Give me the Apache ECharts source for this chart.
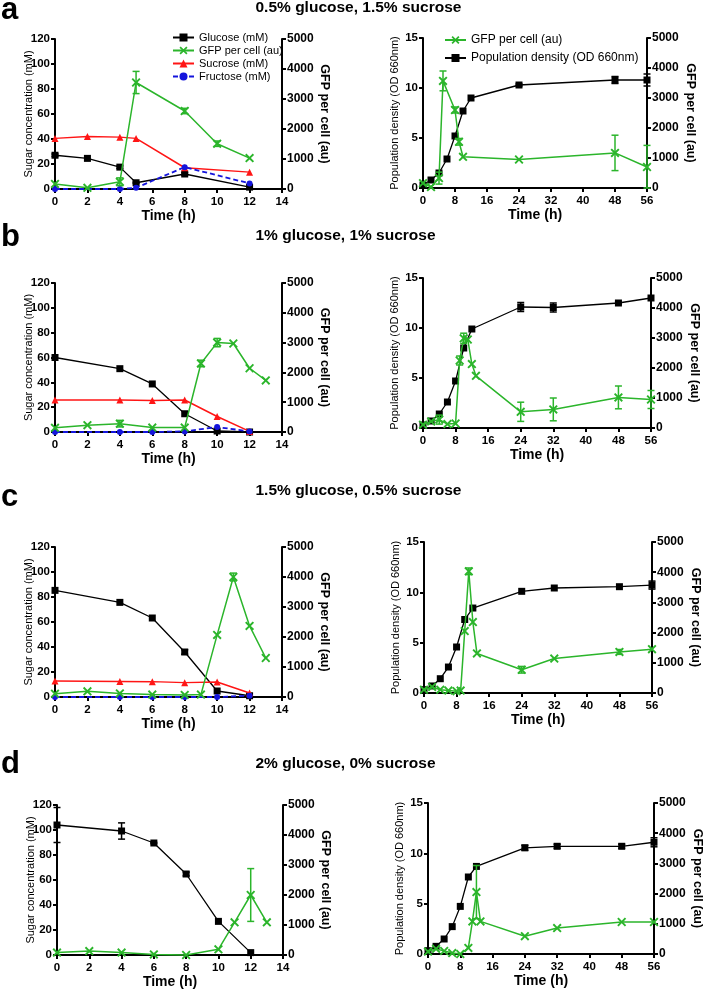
<!DOCTYPE html>
<html><head><meta charset="utf-8">
<script src="https://cdn.jsdelivr.net/npm/echarts/dist/echarts.min.js"></script>
<style>html,body{margin:0;padding:0;background:#fff}#c{width:705px;height:992px}</style>
</head><body><div id="c"></div>
<script>
// ---------------- DATA ----------------
const panelLetters = ['a', 'b', 'c', 'd'];
const panelTitles = ['0.5% glucose, 1.5% sucrose', '1% glucose, 1% sucrose', '1.5% glucose, 0.5% sucrose', '2% glucose, 0% sucrose'];

// panel a – sugars (left) and growth (right)
const aSugarT = [0, 2, 4, 5, 8, 12];
const aGlucose = [27, 24.5, 17.5, 5, 12, 1.5];
const aGlucoseErr = [1, 0, 1, 0.5, 1, 0];
const aSucrose = [40.5, 42, 41.5, 40.5, 17, 13.5];
const aFructoseT = [0, 4, 5, 8, 12];
const aFructose = [0, 0, 1, 17.5, 4.5];
const aGfpT = [0, 2, 4, 5, 8, 10, 12];
const aGfp = [170, 40, 240, 3550, 2600, 1510, 1030];
const aGfpErr = [0, 0, 130, 370, 90, 90, 0];
const aOdT = [0, 2, 4, 6, 8, 10, 12, 24, 48, 56];
const aOd = [0.3, 0.8, 1.5, 2.9, 5.2, 7.7, 9.0, 10.3, 10.8, 10.8];
const aOdErr = [0, 0, 0, 0, 0, 0, 0, 0.1, 0.35, 0.6];
const aGfp2T = [0, 2, 4, 5, 8, 9, 10, 24, 48, 56];
const aGfp2 = [160, 30, 330, 3570, 2600, 1540, 1040, 950, 1170, 700];
const aGfp2Err = [0, 0, 200, 330, 100, 110, 0, 0, 590, 720];

// panel b
const bSugarT = [0, 4, 6, 8, 10, 12];
const bGlucose = [60, 51, 38.7, 14.7, 0.8, 0];
const bSucrose = [25.8, 25.8, 25.3, 25.8, 12.5, 0.5];
const bFructose = [0, 0, 0, 0.5, 4, 0.5];
const bGfpT = [0, 2, 4, 6, 8, 9, 10, 11, 12, 13];
const bGfp = [140, 230, 280, 150, 150, 2300, 3000, 2970, 2140, 1730];
const bGfpErr = [0, 0, 110, 0, 0, 110, 140, 0, 0, 0];
const bOdT = [0, 2, 4, 6, 8, 10, 12, 24, 32, 48, 56];
const bOd = [0.3, 0.7, 1.4, 2.6, 4.7, 8.0, 9.9, 12.1, 12.05, 12.5, 13.0];
const bOdErr = [0, 0, 0, 0, 0, 0, 0, 0.45, 0.45, 0.1, 0];
const bGfp2T = [0, 2, 4, 6, 8, 9, 10, 11, 12, 13, 24, 32, 48, 56];
const bGfp2 = [110, 220, 280, 130, 150, 2250, 2990, 2950, 2130, 1740, 540, 620, 1020, 950];
const bGfp2Err = [0, 0, 150, 0, 0, 150, 170, 0, 0, 0, 320, 380, 380, 300];

// panel c
const cSugarT = [0, 4, 6, 8, 10, 12];
const cGlucose = [85.3, 75.7, 63.2, 36, 4.8, 1];
const cGlucoseErr = [0, 0, 0, 1.8, 0, 0];
const cSucrose = [12.8, 12.5, 12.3, 11.5, 12, 3.2];
const cFructose = [0, 0, 0, 0, 0, 1];
const cGfpT = [0, 2, 4, 6, 8, 9, 10, 11, 12, 13];
const cGfp = [110, 190, 120, 80, 70, 80, 2070, 4000, 2370, 1300];
const cGfpErr = [0, 0, 0, 0, 0, 0, 0, 130, 0, 0];
const cOdT = [0, 2, 4, 6, 8, 10, 12, 24, 32, 48, 56];
const cOd = [0.33, 0.7, 1.42, 2.58, 4.57, 7.3, 8.44, 10.1, 10.43, 10.56, 10.72];
const cOdErr = [0, 0, 0, 0, 0, 0, 0, 0, 0, 0, 0.4];
const cGfp2T = [0, 2, 4, 6, 8, 9, 10, 11, 12, 13, 24, 32, 48, 56];
const cGfp2 = [110, 200, 110, 80, 60, 80, 2050, 4030, 2350, 1310, 770, 1140, 1360, 1450];
const cGfp2Err = [0, 0, 0, 0, 0, 0, 0, 110, 0, 0, 110, 0, 80, 0];

// panel d
const dSugarT = [0, 4, 6, 8, 10, 12];
const dGlucose = [104, 99.2, 89.6, 64.8, 26.9, 1.9];
const dGlucoseErr = [14, 6.5, 0.5, 1.5, 0, 0];
const dGfpT = [0, 2, 4, 6, 8, 10, 11, 12, 13];
const dGfp = [80, 130, 80, 20, 0, 190, 1090, 2000, 1090];
const dGfpErr = [0, 0, 0, 0, 0, 0, 0, 880, 0];
const dOdT = [0, 2, 4, 6, 8, 10, 12, 24, 32, 48, 56];
const dOd = [0.33, 0.76, 1.49, 2.72, 4.73, 7.65, 8.7, 10.55, 10.7, 10.7, 11.1];
const dOdErr = [0, 0, 0, 0, 0, 0, 0, 0.25, 0.2, 0.2, 0.45];
const dGfp2T = [0, 2, 4, 6, 8, 10, 11, 12, 13, 24, 32, 48, 56];
const dGfp2 = [80, 170, 100, 30, 0, 200, 1080, 2050, 1080, 590, 860, 1060, 1060];
const dGfp2Err = [0, 0, 0, 0, 0, 0, 0, 880, 0, 0, 0, 0, 0];

// ---------------- STYLE ----------------
const FONT = '"Liberation Sans", Arial, sans-serif';
const XPATH = 'path://M1.5,0 L5,3.5 L8.5,0 L10,1.5 L6.5,5 L10,8.5 L8.5,10 L5,6.5 L1.5,10 L0,8.5 L3.5,5 L0,1.5 Z';
const ST = {
  glucose: { symbol: 'rect', size: 7, color: '#000000', width: 1.3, z: 2 },
  od: { symbol: 'rect', size: 7, color: '#000000', width: 1.3, z: 2 },
  sucrose: { symbol: 'triangle', size: 7, color: '#ff1515', width: 1.5, z: 3 },
  fructose: { symbol: 'circle', size: 6, color: '#1414dc', width: 1.8, dash: [5, 3], z: 4 },
  gfp: { symbol: XPATH, size: 9, color: '#2bb52b', width: 1.5, z: 5 }
};
const N = {
  glucose: 'Glucose (mM)', gfp: 'GFP per cell (au)', sucrose: 'Sucrose (mM)',
  fructose: 'Fructose (mM)', od: 'Population density (OD 660nm)'
};

const grids = [
  { left: 55, top: 39, width: 227, height: 150 },
  { left: 423, top: 38, width: 224, height: 150 },
  { left: 55, top: 283, width: 227, height: 149 },
  { left: 423, top: 278, width: 228, height: 150 },
  { left: 55, top: 547, width: 227, height: 150 },
  { left: 424, top: 542, width: 228, height: 151 },
  { left: 57, top: 805, width: 226, height: 150 },
  { left: 428, top: 803, width: 228, height: 151 }
];

const axisLineS = { onZero: false, lineStyle: { color: '#000', width: 2 } };
const tickS = { length: 4, lineStyle: { color: '#000', width: 2 } };
function lab(size, margin) {
  return { margin, fontFamily: FONT, fontWeight: 'bold', fontSize: size, color: '#000',
    formatter: v => String(v) };
}
function xAx(g, max, interval) {
  return { type: 'value', gridIndex: g, min: 0, max, interval,
    name: 'Time (h)', nameLocation: 'middle', nameGap: 20, nameMoveOverlap: false,
    nameTextStyle: { fontFamily: FONT, fontWeight: 'bold', fontSize: 14, color: '#000' },
    axisLine: axisLineS, axisTick: tickS, axisLabel: lab(11.5, 7), splitLine: { show: false } };
}
function yL(g, max, interval, name, gap) {
  return { type: 'value', gridIndex: g, position: 'left', min: 0, max, interval,
    name, nameLocation: 'middle', nameRotate: 90, nameGap: gap, nameMoveOverlap: false,
    nameTextStyle: { fontFamily: FONT, fontSize: 11, color: '#000' },
    axisLine: axisLineS, axisTick: tickS, axisLabel: lab(11.5, 5), splitLine: { show: false } };
}
function yR(g, gap) {
  return { type: 'value', gridIndex: g, position: 'right', min: 0, max: 5000, interval: 1000,
    name: 'GFP per cell (au)', nameLocation: 'middle', nameRotate: -90, nameGap: gap, nameMoveOverlap: false,
    nameTextStyle: { fontFamily: FONT, fontWeight: 'bold', fontSize: 12.5, color: '#000' },
    axisLine: axisLineS, axisTick: tickS, axisLabel: lab(12, 5), splitLine: { show: false } };
}

const xAxes = [], yAxes = [];
for (let p = 0; p < 4; p++) {
  const gl = 2 * p, gr = 2 * p + 1;
  xAxes.push(xAx(gl, 14, 2));
  xAxes.push(xAx(gr, 56, 8));
  yAxes.push(yL(gl, 120, 20, 'Sugar concentration (mM)', 21));
  yAxes.push(yR(gl, 36));
  yAxes.push(yL(gr, 15, 5, 'Population density (OD 660nm)', 23));
  yAxes.push(yR(gr, 37));
}

const series = [];
function line(key, g, yi, t, v) {
  const s = ST[key];
  series.push({
    name: N[key], type: 'line', xAxisIndex: g, yAxisIndex: yi,
    data: t.map((x, i) => [x, v[i]]),
    symbol: s.symbol, symbolSize: s.size, showSymbol: true,
    itemStyle: { color: s.color },
    lineStyle: { color: s.color, width: s.width, type: s.dash || 'solid' },
    z: s.z, clip: false
  });
}
function err(key, g, yi, t, v, e) {
  const s = ST[key];
  const data = [];
  t.forEach((x, i) => { if (e[i] > 0) data.push([x, Math.max(0, v[i] - e[i]), v[i] + e[i]]); });
  series.push({
    type: 'custom', xAxisIndex: g, yAxisIndex: yi, data, z: s.z, silent: true,
    encode: { x: 0, y: [1, 2] },
    renderItem(params, api) {
      const x = api.value(0);
      const a = api.coord([x, api.value(2)]);
      const b = api.coord([x, api.value(1)]);
      const w = 3.5;
      const st = { stroke: s.color, lineWidth: 1.5 };
      return { type: 'group', children: [
        { type: 'line', shape: { x1: a[0], y1: a[1], x2: b[0], y2: b[1] }, style: st },
        { type: 'line', shape: { x1: a[0] - w, y1: a[1], x2: a[0] + w, y2: a[1] }, style: st },
        { type: 'line', shape: { x1: b[0] - w, y1: b[1], x2: b[0] + w, y2: b[1] }, style: st }
      ] };
    }
  });
}
// panel a
line('glucose', 0, 0, aSugarT, aGlucose); err('glucose', 0, 0, aSugarT, aGlucose, aGlucoseErr);
line('gfp', 0, 1, aGfpT, aGfp); err('gfp', 0, 1, aGfpT, aGfp, aGfpErr);
line('sucrose', 0, 0, aSugarT, aSucrose);
line('fructose', 0, 0, aFructoseT, aFructose);
line('gfp', 1, 3, aGfp2T, aGfp2); err('gfp', 1, 3, aGfp2T, aGfp2, aGfp2Err);
line('od', 1, 2, aOdT, aOd); err('od', 1, 2, aOdT, aOd, aOdErr);
// panel b
line('glucose', 2, 4, bSugarT, bGlucose);
line('gfp', 2, 5, bGfpT, bGfp); err('gfp', 2, 5, bGfpT, bGfp, bGfpErr);
line('sucrose', 2, 4, bSugarT, bSucrose);
line('fructose', 2, 4, bSugarT, bFructose);
line('gfp', 3, 7, bGfp2T, bGfp2); err('gfp', 3, 7, bGfp2T, bGfp2, bGfp2Err);
line('od', 3, 6, bOdT, bOd); err('od', 3, 6, bOdT, bOd, bOdErr);
// panel c
line('glucose', 4, 8, cSugarT, cGlucose); err('glucose', 4, 8, cSugarT, cGlucose, cGlucoseErr);
line('gfp', 4, 9, cGfpT, cGfp); err('gfp', 4, 9, cGfpT, cGfp, cGfpErr);
line('sucrose', 4, 8, cSugarT, cSucrose);
line('fructose', 4, 8, cSugarT, cFructose);
line('gfp', 5, 11, cGfp2T, cGfp2); err('gfp', 5, 11, cGfp2T, cGfp2, cGfp2Err);
line('od', 5, 10, cOdT, cOd); err('od', 5, 10, cOdT, cOd, cOdErr);
// panel d
line('glucose', 6, 12, dSugarT, dGlucose); err('glucose', 6, 12, dSugarT, dGlucose, dGlucoseErr);
line('gfp', 6, 13, dGfpT, dGfp); err('gfp', 6, 13, dGfpT, dGfp, dGfpErr);
line('gfp', 7, 15, dGfp2T, dGfp2); err('gfp', 7, 15, dGfp2T, dGfp2, dGfp2Err);
line('od', 7, 14, dOdT, dOd); err('od', 7, 14, dOdT, dOd, dOdErr);

// titles and panel letters
const letterY = [10.5, 237.5, 497.5, 764.5];
const titleY = [7.5, 235.5, 490.5, 763.5];
const graphics = [];
for (let p = 0; p < 4; p++) {
  graphics.push({ type: 'text', style: { x: 1, y: letterY[p], text: panelLetters[p], fill: '#000',
    font: 'bold 31px ' + FONT, align: 'left', verticalAlign: 'middle' } });
  graphics.push({ type: 'text', style: { x: 255.5, y: titleY[p], text: panelTitles[p], fill: '#000',
    font: 'bold 15.5px ' + FONT, align: 'left', verticalAlign: 'middle' } });
}

const chart = echarts.init(document.getElementById('c'), null, { renderer: 'canvas' });
chart.setOption({
  animation: false,
  backgroundColor: '#ffffff',
  grid: grids,
  xAxis: xAxes,
  yAxis: yAxes,
  legend: [
    { data: [N.glucose, N.gfp, N.sucrose, N.fructose], orient: 'vertical', left: 172, top: 32,
      padding: 0, itemGap: 2, itemWidth: 21, itemHeight: 10, selectedMode: false,
      textStyle: { fontFamily: FONT, fontSize: 11, color: '#000' } },
    { data: [N.gfp, N.od], orient: 'vertical', left: 444, top: 34,
      padding: 0, itemGap: 6, itemWidth: 21, itemHeight: 10, selectedMode: false,
      textStyle: { fontFamily: FONT, fontSize: 12, color: '#000' } }
  ],
  graphic: graphics,
  series
});
</script></body></html>
